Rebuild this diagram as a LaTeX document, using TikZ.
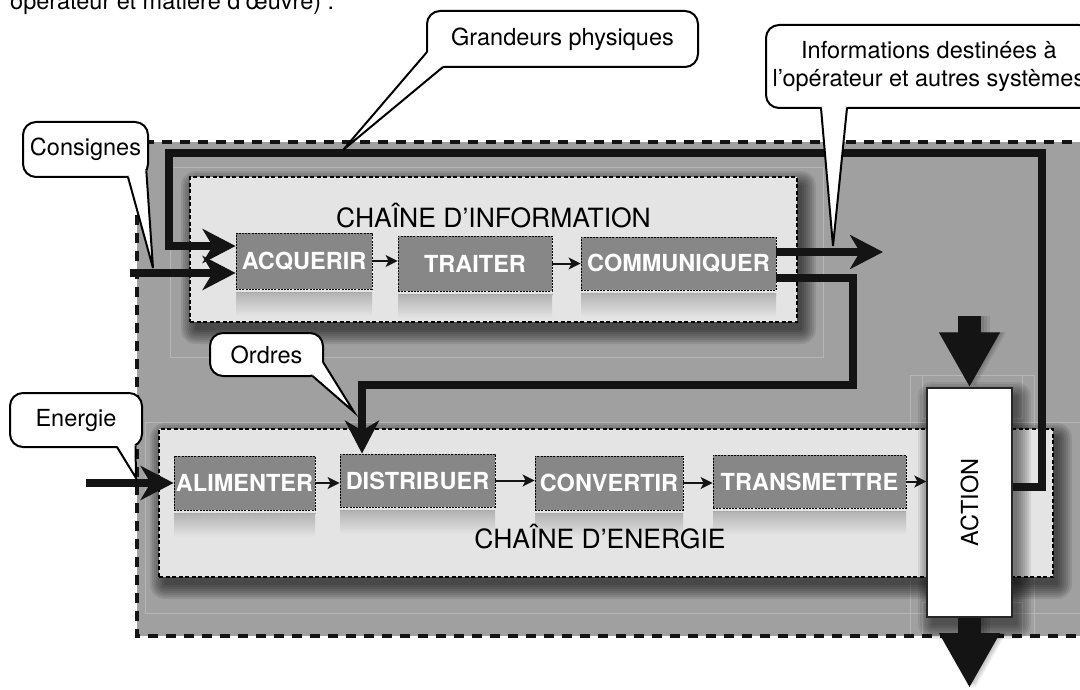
\documentclass[tikz,border=0pt]{standalone}
\usepackage{fontspec}
\setmainfont{TeX Gyre Heros}
\usetikzlibrary{arrows.meta,calc}
\definecolor{outergray}{HTML}{A0A0A0}
\definecolor{chainbg}{HTML}{E4E4E4}
\definecolor{boxgray}{HTML}{878787}
\definecolor{ink}{HTML}{141414}
\definecolor{faint}{HTML}{B6B6B6}
\definecolor{reflectgray}{HTML}{B2B2B2}
\newcommand{\softshadow}[5][0.09]{%
  \foreach \s in {0,2,...,14}{\fill[black,opacity=#1,rounded corners=\s+1] (#2+5-\s,#3+8-\s) rectangle (#4+5+\s,#5+8+\s);}}
\newcommand{\reflectbar}[3]{%
  \shade[top color=reflectgray, bottom color=chainbg] (#1,#3+3) rectangle (#2,#3+27);
  \draw[gray!70!white, line width=0.6pt, dash pattern=on 2pt off 1.2pt] (#1,#3+3) -- (#2,#3+3);}
\newcommand{\calloutptr}[4]{%
  \fill[white] #1 -- #4 -- #2 -- #3 -- cycle;
  \draw[black, line width=2pt, line join=miter] #1 -- #4 -- #2;}
\begin{document}
\begin{tikzpicture}[x=1pt,y=-1pt,
  chainbox/.style={fill=chainbg, draw=black, line width=1.3pt, dash pattern=on 4pt off 2.5pt, inner sep=0pt},
  fbox/.style={fill=boxgray, draw=black, line width=0.8pt, dash pattern=on 2pt off 1.2pt, text=white, font=\bfseries\fontsize{23.5}{26}\selectfont, inner sep=0pt},
  thinarrow/.style={draw=ink, line width=2pt, -{Stealth[length=12pt,width=12pt,inset=3pt]}},
  heavy/.style={draw=ink, line width=7.5pt, line join=miter},
  heavyarrow/.style={heavy, -{Stealth[length=33pt,width=34pt,inset=10pt]}},
  callout/.style={fill=white, draw=black, line width=2pt, rounded corners=13pt, inner sep=0pt},
  lbl/.style={font=\fontsize{23.5}{28}\selectfont},
  chaintitle/.style={font=\fontsize{26.5}{30}\selectfont},
  blockarrow/.style={draw=ink, line width=23pt, -{Triangle[length=55pt,width=57pt]}},
  faintline/.style={draw=faint, line width=0.8pt},
]
\useasboundingbox (0,0) rectangle (1080,690);
\clip (0,0) rectangle (1080,690);

% outer zone
\fill[outergray] (137,142) rectangle (1090,636);
\draw[faintline] (170,167) rectangle (823,357);
\draw[faintline] (1090,422) -- (145,422) -- (145,613) -- (1090,613);
\draw[faintline] (910,636) -- (910,375) -- (1034,375) -- (1034,636);
\draw[faintline] (922,375) -- (922,418) -- (1022,418) -- (1022,375);
\draw[faintline] (922,636) -- (922,602) -- (1022,602) -- (1022,636);
\draw[ink, line width=4.5pt, dash pattern=on 10pt off 8pt] (1090,142) -- (137,142) -- (137,636) -- (1090,636);

% chain boxes
\softshadow{190}{177}{797}{322}
\node[chainbox, minimum width=607, minimum height=145] (INFO) at (493.5,249.5) {};
\softshadow{159}{429}{1053}{577}
\node[chainbox, minimum width=894, minimum height=148] (ENERGY) at (606,503) {};

% reflections
\reflectbar{236}{372}{289}
\reflectbar{398}{552}{291}
\reflectbar{581}{776}{290}
\reflectbar{174}{315}{510}
\reflectbar{340}{495}{507}
\reflectbar{535}{683}{510}
\reflectbar{713}{906}{508}

% titles
\node[chaintitle, anchor=base] (INFOTITLE) at (493.5,227) {CHAÎNE D’INFORMATION};
\node[chaintitle, anchor=base] (ENERGYTITLE) at (600,548) {CHAÎNE D’ENERGIE};

% function boxes
\node[fbox, minimum width=136, minimum height=56] (ACQUERIR) at (304,261) {ACQUERIR};
\node[fbox, minimum width=154, minimum height=55] (TRAITER) at (475,263.5) {TRAITER};
\node[fbox, minimum width=195, minimum height=53] (COMMUNIQUER) at (678.5,263.5) {COMMUNIQUER};
\node[fbox, minimum width=141, minimum height=54] (ALIMENTER) at (244.5,483) {ALIMENTER};
\node[fbox, minimum width=155, minimum height=53] (DISTRIBUER) at (417.5,480.5) {DISTRIBUER};
\node[fbox, minimum width=148, minimum height=54] (CONVERTIR) at (609,483) {CONVERTIR};
\node[fbox, minimum width=193, minimum height=53] (TRANSMETTRE) at (809.5,481.5) {TRANSMETTRE};

% ACTION
\softshadow[0.08]{927}{388}{1012}{617}
\node[fill=white, draw=black!85, line width=1.3pt, minimum width=85, minimum height=229, inner sep=0pt] (ACTION) at (969.5,502.5) {};
\node[lbl, rotate=90] (ACTIONLBL) at (ACTION.center) {ACTION};

% thin arrows
\draw[thinarrow] (ACQUERIR.east) -- (ACQUERIR.east -| TRAITER.west);
\draw[thinarrow] (TRAITER.east) -- (TRAITER.east -| COMMUNIQUER.west);
\draw[thinarrow] (ALIMENTER.east) -- (ALIMENTER.east -| DISTRIBUER.west);
\draw[thinarrow] (DISTRIBUER.east) -- (DISTRIBUER.east -| CONVERTIR.west);
\draw[thinarrow] (CONVERTIR.east) -- (CONVERTIR.east -| TRANSMETTRE.west);
\draw[thinarrow] (TRANSMETTRE.east) -- (TRANSMETTRE.east -| ACTION.west);

% heavy connectors
\coordinate (fbcorner) at (1042,153);
\coordinate (fbleft) at (169,153);
\draw[heavyarrow] ([yshift=15.5pt]ACTION.east) -| (fbcorner) -- (fbleft) |- ([yshift=15pt]ACQUERIR.west);
\coordinate (consin) at (130,273);
\draw[heavyarrow, line width=8.5pt] (consin) -- ([yshift=-12pt]ACQUERIR.west);
\coordinate (infoout) at (883,252);
\draw[heavyarrow] ([yshift=11.5pt]COMMUNIQUER.east) -- (infoout);
\coordinate (ordcorner) at (853,385);
\draw[heavyarrow] ([yshift=-14.5pt]COMMUNIQUER.east) -| (ordcorner) -| ([xshift=-55.5pt]DISTRIBUER.north);
\coordinate (enin) at (86,483);
\draw[heavyarrow, line width=8.5pt] (enin) -- (ALIMENTER.west);

% block arrows at ACTION
\coordinate (actin) at (969.5,316);
\coordinate (actout) at (969.5,688);
\foreach \d in {2,4,6}{
  \draw[black, opacity=0.08, line width=23pt+\d pt, -{Triangle[length=55pt,width=57pt]}] ([xshift=\d pt]actin) -- ([xshift=\d pt]ACTION.north);
  \draw[black, opacity=0.08, line width=23pt+\d pt, -{Triangle[length=55pt,width=57pt]}] ([xshift=\d pt]ACTION.south) -- ([xshift=\d pt]actout);}
\draw[blockarrow] (actin) -- (ACTION.north);
\draw[blockarrow] (ACTION.south) -- (actout);

% top clipped text
\node[lbl, anchor=base west, inner sep=0pt] (INTRO) at (10,10) {opérateur et matière d’œuvre) :};

% callouts
\node[callout, lbl, minimum width=125, minimum height=55] (CONSIGNES) at (85.5,149.5) {Consignes};
\calloutptr{(128,177)}{(146.3,170.5)}{(136,169)}{(153,268)}
\node[callout, lbl, minimum width=271, minimum height=56] (GRANDEURS) at (562.5,39) {Grandeurs physiques};
\calloutptr{(427,52)}{(443,67)}{(441,57)}{(343,150)}
\node[callout, lbl, align=center, minimum width=326, minimum height=83] (INFORMATIONS) at (929,66.5) {Informations destinées à\\l’opérateur et autres systèmes};
\calloutptr{(821,108)}{(847,108)}{(834,100)}{(833,246)}
\node[callout, lbl, minimum width=113, minimum height=43] (ORDRES) at (266.5,354.5) {Ordres};
\calloutptr{(312.3,375.8)}{(323,362)}{(314,366)}{(354,412)}
\node[callout, lbl, minimum width=132, minimum height=54] (ENERGIE) at (76,420) {Energie};
\calloutptr{(117,447)}{(135.5,445.3)}{(128,440)}{(136,478)}
\end{tikzpicture}
\end{document}
